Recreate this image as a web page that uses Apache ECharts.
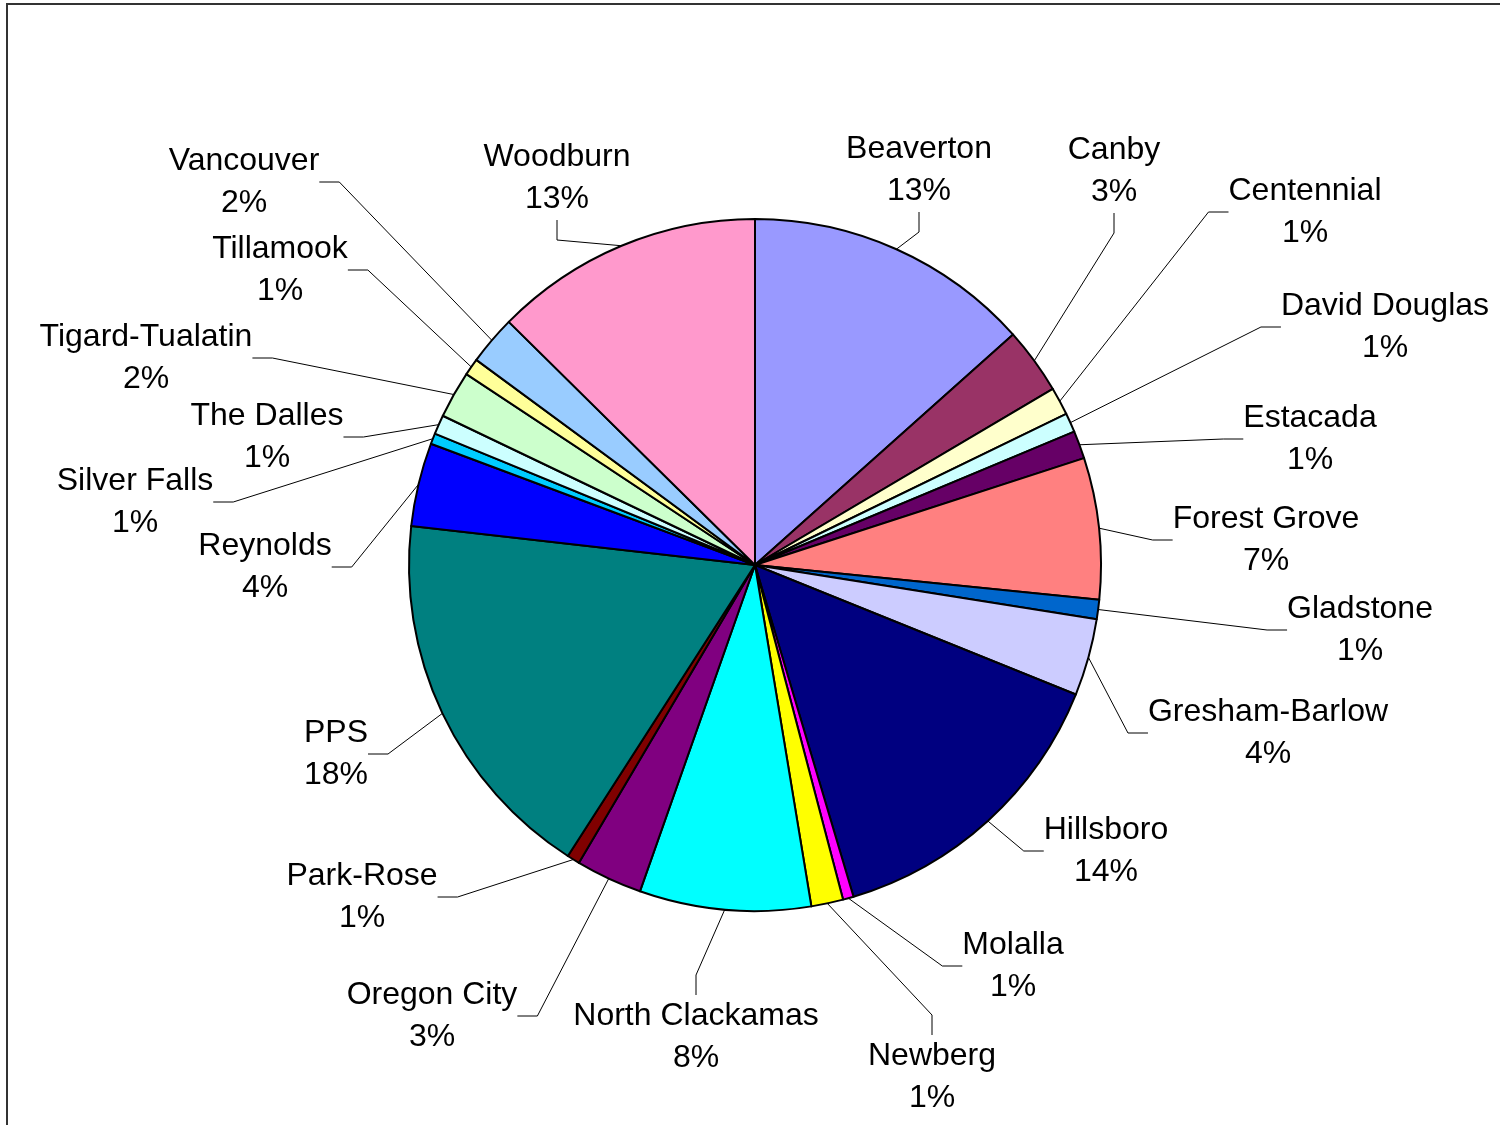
<!DOCTYPE html>
<html>
<head>
<meta charset="utf-8">
<script src="https://cdn.jsdelivr.net/npm/echarts@6/dist/echarts.min.js"></script>
<style>
  html, body { margin: 0; padding: 0; background: #fff; }
  #chart { width: 1500px; height: 1125px; }
</style>
</head>
<body>
<div id="chart"></div>
<script>
// districts, clockwise from 12 o'clock
const districts = [
  "Beaverton", "Canby", "Centennial", "David Douglas", "Estacada",
  "Forest Grove", "Gladstone", "Gresham-Barlow", "Hillsboro", "Molalla",
  "Newberg", "North Clackamas", "Oregon City", "Park-Rose", "PPS",
  "Reynolds", "Silver Falls", "The Dalles", "Tigard-Tualatin", "Tillamook",
  "Vancouver", "Woodburn"
];
// shares (per mille)
const shares = [
  134, 31, 13, 9, 13,
  66, 9, 36, 143, 5,
  14.9, 80, 31, 6, 177,
  39, 5, 9, 22, 8,
  23, 126
];
// old Excel palette
const colors = [
  "#9999FF", "#993366", "#FFFFCC", "#CCFFFF", "#660066",
  "#FF8080", "#0066CC", "#CCCCFF", "#000080", "#FF00FF",
  "#FFFF00", "#00FFFF", "#800080", "#800000", "#008080",
  "#0000FF", "#00CCFF", "#CCFFFF", "#CCFFCC", "#FFFF99",
  "#99CCFF", "#FF99CC"
];
// where the labels sit (centre of the two-line block), as in the original
const labelAt = [
  [919, 170], [1114, 171], [1305, 212], [1385, 327], [1310, 439],
  [1266, 540], [1360, 630], [1268, 733], [1106, 851], [1013, 966],
  [932, 1077], [696, 1037], [432, 1016], [362, 897], [336, 754],
  [265, 567], [135, 502], [267, 437], [146, 358], [280, 270],
  [244, 182], [557, 178]
];

const total = shares.reduce((a, b) => a + b, 0);

const chart = echarts.init(document.getElementById("chart"));
chart.setOption({
  animation: false,
  backgroundColor: "#fff",
  textStyle: { fontFamily: "Liberation Sans, Arial, sans-serif" },
  graphic: [
    {
      type: "rect",
      shape: { x: 7, y: 4, width: 1600, height: 1300 },
      style: { fill: "none", stroke: "#333", lineWidth: 2 },
      z: -1,
    },
  ],
  series: [
    {
      type: "pie",
      center: [755, 565],
      radius: [0, 346],
      startAngle: 90,
      clockwise: true,
      minShowLabelAngle: 0,
      avoidLabelOverlap: false,
      itemStyle: { borderColor: "#000", borderWidth: 2 },
      emphasis: { disabled: true },
      label: {
        show: true,
        position: "outside",
        color: "#000",
        fontSize: 32,
        lineHeight: 42,
        formatter: (p) =>
          "{n|" + p.name + "}\n{n|" + Math.round((p.value * 100) / total) + "%}",
        rich: {
          n: { align: "center", fontSize: 32, lineHeight: 42, color: "#000" },
        },
      },
      labelLine: {
        show: true,
        length: 20,
        length2: 20,
        lineStyle: { color: "#000", width: 1 },
      },
      labelLayout: (params) => {
        const pos = labelAt[params.dataIndex];
        return { x: pos[0], y: pos[1], align: "center", verticalAlign: "middle" };
      },
      data: districts.map((name, i) => ({
        name: name,
        value: shares[i],
        itemStyle: { color: colors[i] },
      })),
    },
  ],
});
</script>
</body>
</html>
